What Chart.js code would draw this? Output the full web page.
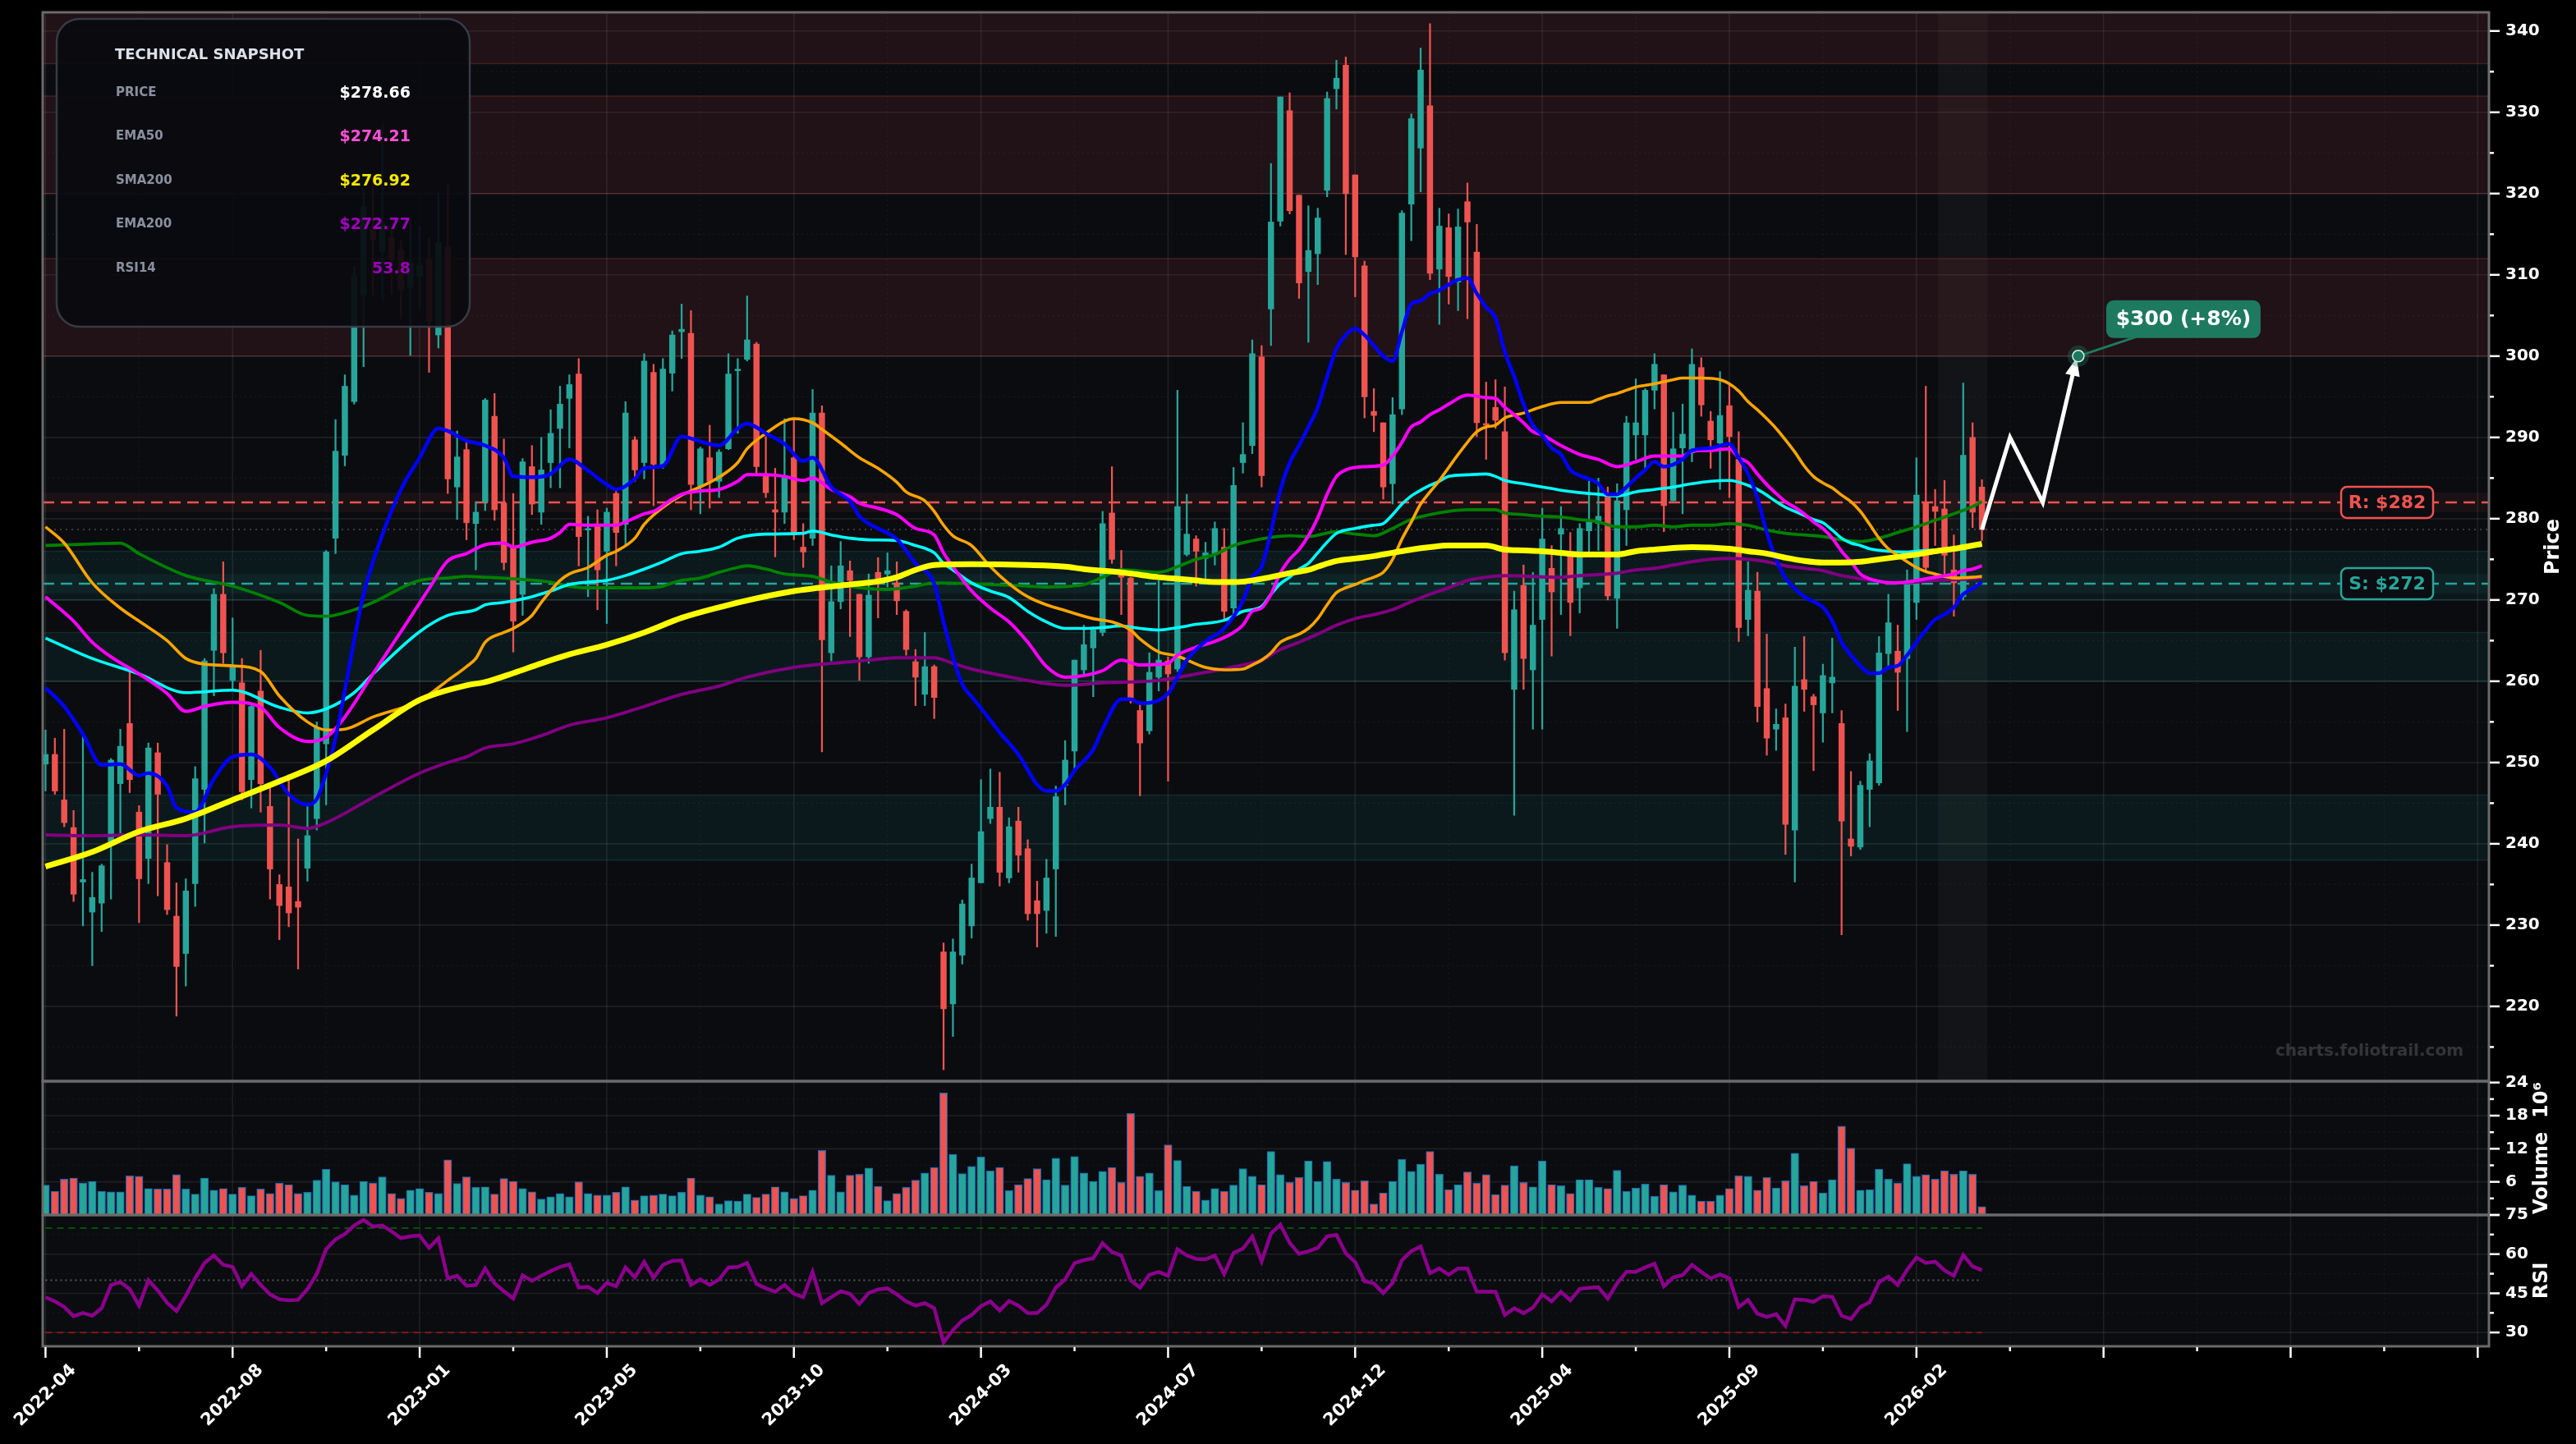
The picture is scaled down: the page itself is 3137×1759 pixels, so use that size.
<!DOCTYPE html>
<html>
<head>
<meta charset="utf-8">
<script src="https://cdn.jsdelivr.net/npm/chart.js@4.4.1/dist/chart.umd.min.js"></script>
<style>
  html, body { margin: 0; padding: 0; background: #000; }
  #wrap { width: 3137px; height: 1759px; }
</style>
</head>
<body>
<div id="wrap"><canvas id="techChart" width="3137" height="1759"></canvas></div>
<script>
// weekly candles, bar 0 = first week of 2022-04
const opens = [
  249.8,251.0,245.4,242.0,235.3,231.6,232.7,240.3,247.4,254.8,
  243.9,238.2,251.2,237.7,231.1,226.5,235.1,246.7,263.8,270.7,
  260.1,259.8,247.9,258.8,244.6,235.0,234.7,232.9,237.0,243.1,
  252.3,277.6,287.8,294.4,307.5,315.6,312.9,314.6,313.1,308.5,
  309.8,311.9,302.6,313.4,283.9,288.5,279.4,282.1,292.6,281.9,
  276.5,270.7,286.4,280.8,286.9,291.1,294.8,297.8,278.6,279.3,
  276.0,283.1,279.3,289.7,286.9,298.0,286.5,297.9,303.0,302.8,
  284.0,287.5,284.6,288.6,298.2,299.6,301.5,285.3,281.1,280.8,
  287.5,276.5,277.6,293.0,263.5,269.8,273.6,270.7,263.0,273.4,
  273.2,272.1,268.6,262.4,258.4,261.8,226.7,220.3,226.3,229.9,
  235.2,243.1,244.5,235.8,242.8,239.4,233.0,231.8,236.9,247.2,
  251.4,261.4,264.1,266.0,280.7,273.4,272.7,256.4,253.9,260.5,
  262.5,261.5,275.6,277.5,275.1,275.6,276.5,269.0,286.9,289.0,
  299.9,305.8,316.6,330.2,319.8,310.4,312.6,320.4,332.9,335.8,
  322.3,311.1,293.2,291.8,284.3,293.5,318.7,325.6,330.8,310.7,
  315.8,309.1,319.0,312.8,291.7,293.7,290.7,259.0,271.8,261.4,
  267.6,273.9,278.1,275.8,271.5,278.5,279.4,282.8,270.2,281.1,
  290.3,290.3,295.8,297.7,282.2,288.7,288.1,298.6,292.0,289.3,
  293.9,287.3,267.6,271.1,259.1,254.1,255.5,241.7,260.2,258.1,
  256.1,259.8,254.8,240.6,239.6,246.7,247.5,263.4,263.7,262.8,
  269.7,281.9,281.5,281.2,273.7,270.4,290.0,283.9
];
const highs = [
  254.0,253.0,254.1,244.1,253.6,236.5,237.5,250.5,254.1,261.5,
  244.7,252.4,252.4,239.9,235.2,235.7,249.5,262.8,271.4,274.7,
  267.8,262.8,257.0,263.8,247.0,236.2,248.5,240.6,244.8,255.0,
  276.1,292.2,297.7,311.0,320.6,321.0,328.4,316.0,314.2,316.4,
  316.0,314.5,320.1,321.0,290.8,289.5,282.1,294.8,295.4,289.8,
  283.1,287.4,289.0,290.0,293.4,296.3,297.7,299.7,280.3,281.1,
  281.3,283.6,294.4,290.1,300.3,299.0,299.7,303.1,306.4,305.6,
  288.8,291.5,288.5,300.3,299.7,307.4,301.7,290.1,286.2,292.3,
  292.3,279.4,295.9,293.9,274.2,277.2,274.8,270.7,273.2,275.2,
  275.8,274.7,268.8,263.9,266.0,262.0,227.8,228.3,233.1,237.5,
  247.9,249.2,248.8,243.2,244.5,240.5,235.4,238.1,247.1,252.7,
  262.6,266.9,266.7,280.9,286.4,276.1,272.8,257.5,263.5,272.4,
  263.0,295.8,283.0,277.9,277.1,279.6,278.8,286.3,291.8,302.0,
  301.3,323.7,331.9,332.4,319.8,318.5,318.2,332.5,336.4,336.8,
  322.3,311.7,296.0,291.8,294.9,317.9,329.8,337.9,340.9,318.2,
  317.5,318.1,321.3,316.2,296.8,297.1,296.2,271.1,274.3,273.4,
  281.3,276.7,281.5,278.3,279.4,284.6,285.0,283.9,284.3,292.6,
  297.2,296.0,300.3,297.7,293.1,294.1,300.9,299.8,293.2,298.1,
  296.6,290.7,274.7,273.4,265.8,256.6,257.2,264.2,265.5,258.4,
  262.1,265.3,256.4,248.9,247.7,251.1,265.5,270.7,266.9,273.7,
  287.5,296.3,283.6,284.7,278.0,296.7,291.8,284.8
];
const lows = [
  246.5,246.1,242.1,232.9,229.9,225.0,229.2,233.2,241.3,246.3,
  230.3,235.1,233.6,231.3,218.8,222.5,232.3,240.1,258.2,262.2,
  258.9,245.4,244.4,243.9,233.2,228.2,229.8,224.6,235.4,241.7,
  244.8,275.7,286.5,294.1,298.7,307.5,307.0,307.6,304.6,300.1,
  305.9,298.0,301.0,283.1,279.9,277.4,273.7,281.0,279.8,273.7,
  263.6,268.1,280.5,279.3,283.8,283.8,288.7,274.2,270.4,268.8,
  267.1,274.2,276.7,284.6,284.9,281.6,286.2,295.7,299.7,281.1,
  280.6,281.3,282.6,288.5,290.5,299.4,285.5,282.6,275.3,279.4,
  277.4,274.0,276.7,251.3,262.5,268.9,265.5,260.1,262.2,267.8,
  271.6,268.2,263.2,257.0,257.0,255.4,212.2,216.3,225.2,228.4,
  235.2,242.5,234.8,235.2,236.5,230.6,227.3,229.0,228.6,244.8,
  248.8,260.9,258.1,265.6,274.5,268.2,257.3,245.9,253.5,258.8,
  247.7,261.2,275.4,271.7,272.4,274.3,267.5,268.2,285.6,288.0,
  283.9,301.3,316.0,317.5,307.1,301.7,308.8,319.6,330.4,312.5,
  307.3,292.4,290.7,282.4,281.8,292.8,314.2,320.2,309.4,303.9,
  306.4,305.6,304.6,290.1,287.3,291.1,262.6,243.5,259.0,254.1,
  254.1,263.1,268.2,265.6,268.4,275.8,276.1,270.0,266.5,276.7,
  287.3,286.0,293.5,278.4,282.2,280.6,287.0,292.6,286.2,283.6,
  282.6,264.9,265.6,255.0,250.9,251.5,238.7,235.3,256.3,249.0,
  252.5,256.1,228.8,238.5,239.3,242.1,247.2,261.9,256.4,253.8,
  267.6,273.4,276.7,273.0,268.0,270.0,278.9,277.3
];
const closes = [
  251.0,246.5,242.6,233.8,235.6,233.4,237.3,250.3,252.0,247.9,
  235.7,251.8,246.1,231.9,224.9,234.2,248.0,262.5,270.7,263.5,
  261.9,246.4,256.9,247.4,236.9,232.4,231.5,232.2,241.0,254.3,
  275.9,288.3,296.3,309.8,318.4,314.3,316.4,311.9,308.2,311.5,
  311.2,304.3,314.0,284.9,287.6,279.5,280.8,294.6,281.1,274.6,
  267.4,287.0,281.8,286.0,290.5,294.1,296.5,277.8,278.8,273.7,
  280.8,278.3,293.0,286.0,299.4,286.7,298.4,302.6,303.3,284.2,
  288.6,284.6,288.2,297.8,298.4,302.0,286.4,283.2,280.8,285.1,
  278.3,275.9,293.0,265.1,269.8,274.2,272.4,263.0,270.6,272.6,
  273.6,269.9,263.9,260.5,261.8,258.0,219.7,226.7,232.6,235.8,
  241.5,244.5,236.5,242.1,238.6,231.4,231.4,235.8,245.8,250.3,
  262.6,264.5,266.3,279.4,275.0,272.8,258.0,252.4,261.1,262.6,
  260.9,281.5,278.1,276.0,275.8,278.8,268.6,284.1,287.9,300.3,
  285.3,316.5,331.9,317.9,309.0,313.0,317.0,331.7,334.2,320.0,
  312.2,295.0,292.7,283.9,292.8,317.6,329.2,335.2,310.2,316.0,
  309.8,315.9,316.5,291.8,291.5,292.1,263.5,268.8,262.8,266.9,
  277.5,271.0,278.8,269.7,278.8,279.6,280.3,270.5,282.2,291.8,
  291.8,295.8,299.0,281.6,288.6,290.4,299.0,294.0,289.7,292.7,
  290.1,266.6,271.2,256.9,253.0,254.7,242.4,259.4,259.0,257.1,
  260.7,260.5,242.8,239.7,247.2,250.2,263.5,267.2,261.1,272.2,
  282.9,274.0,280.9,275.5,272.1,287.8,280.8,278.66
];
// volume in millions
const volumes = [
  5.4,4.3,6.5,6.7,5.8,6.1,4.3,4.2,4.2,7.1, 7.0,4.8,4.7,4.7,7.3,4.7,3.8,6.7,4.5,4.8,
  3.8,5.0,3.5,4.7,3.9,5.8,5.5,3.9,4.1,6.3, 8.3,6.0,5.5,3.6,6.1,5.8,6.9,3.9,3.0,4.5,
  4.8,4.1,3.9,10.0,5.7,6.9,5.0,5.1,3.8,6.6, 6.1,4.8,4.2,2.9,3.3,3.9,3.3,6.0,3.9,3.6,
  3.6,4.1,5.1,2.7,3.5,3.6,3.8,3.5,4.1,6.7, 3.6,3.3,2.0,2.6,2.5,3.8,3.2,3.8,5.1,4.2,
  3.0,3.5,4.5,11.7,7.2,4.2,7.2,7.4,8.5,5.2, 2.6,3.9,5.0,6.3,7.6,8.6,22.1,11.0,7.5,8.8,
  10.5,8.0,8.6,4.4,5.5,6.6,8.4,6.4,10.3,5.4, 10.6,7.6,6.1,7.9,8.6,5.9,18.4,7.0,7.6,4.4,
  12.7,9.9,5.2,4.3,2.7,4.8,4.3,5.4,8.4,7.0, 5.5,11.5,7.3,5.9,6.8,9.8,6.1,9.7,6.5,5.9,
  4.5,6.2,2.0,4.0,6.1,10.1,7.9,9.2,11.5,7.4, 4.6,5.5,7.8,5.8,7.3,3.7,5.4,8.9,5.9,5.1,
  9.8,5.5,5.3,3.9,6.4,6.4,5.0,4.8,8.1,4.3, 4.9,5.6,3.4,5.5,4.2,5.4,3.6,2.5,2.5,3.6,
  4.8,7.1,7.0,4.5,6.8,4.9,6.2,11.2,5.3,6.1, 4.0,6.4,16.1,12.1,4.5,4.6,8.3,6.5,5.8,9.3,
  7.0,7.3,6.5,8.0,7.4,8.0,7.4,1.5
];
const rsi14 = [
  43.5,41.9,39.8,36.2,37.5,36.4,39.3,48.2,49.3,46.6, 40.3,50.0,46.1,41.4,38.2,44.0,50.8,56.6,59.5,55.9,
  55.1,47.7,52.4,48.2,44.6,42.7,42.3,42.5,46.6,52.4, 61.9,65.6,67.7,71.0,73.1,70.6,71.0,68.7,66.1,66.8,
  67.1,62.4,66.1,50.7,51.7,47.9,48.2,54.5,48.8,45.8, 43.0,51.9,49.8,51.7,53.5,55.1,56.1,47.2,47.5,45.1,
  49.0,47.7,54.9,51.1,57.0,50.9,55.9,57.4,57.6,48.2, 50.3,48.2,50.3,54.9,55.1,56.6,48.6,46.9,45.6,48.2,
  44.8,43.5,53.2,41.2,43.5,45.8,44.8,40.9,45.1,46.5, 46.9,44.6,41.9,40.3,41.2,39.3,26.2,30.9,34.6,36.7,
  40.1,41.9,38.4,42.1,40.3,37.4,37.4,40.6,47.2,50.3, 56.6,57.7,58.4,64.2,60.8,59.5,50.0,47.2,52.1,53.2,
  51.7,61.9,59.5,58.2,58.0,59.5,52.4,60.5,62.1,66.8, 57.2,67.9,71.3,64.3,60.1,61.1,62.4,66.8,67.4,60.3,
  57.0,49.6,48.8,45.1,49.0,57.7,61.1,62.9,52.7,54.5, 52.1,54.5,54.5,45.6,45.6,45.6,36.7,39.3,37.4,39.5,
  44.6,41.9,45.6,42.3,46.7,47.1,47.3,43.0,48.8,53.2, 53.2,54.9,56.3,47.7,51.1,52.0,55.9,53.2,50.7,52.2,
  50.7,39.8,42.5,37.2,36.0,37.0,32.5,42.7,42.5,41.7, 43.9,43.7,36.4,35.1,39.8,41.6,49.3,51.4,48.2,54.0,
  58.7,56.6,57.1,53.8,51.7,59.7,55.3,53.8
];

// moving averages as [bar, value]
const maBlue = [[0,259.2],[2,256.9],[4,253.5],[6,249.7],[8,249.8],[10,248.4],[11,248.7],[13,247.1],[14,244.4],[16,243.9],[18,248.0],[20,250.7],[22,251.0],[24,249.4],[26,246.1],[28,244.8],[29,245.5],[30,248.7],[31,253.0],[32,258.9],[34,270.7],[36,278.0],[38,283.6],[40,287.5],[42,291.1],[43,290.8],[45,289.6],[47,289.0],[49,287.5],[50,285.2],[52,285.1],[54,285.5],[56,287.3],[58,285.9],[60,284.2],[61,283.6],[63,284.9],[64,286.2],[66,286.5],[68,290.1],[70,289.5],[72,289.0],[74,291.1],[75,291.7],[77,290.5],[79,289.2],[81,287.1],[82,287.5],[84,283.9],[86,282.1],[87,280.3],[88,279.4],[89,278.8],[91,277.5],[93,274.5],[95,272.0],[96,267.3],[97,263.0],[98,259.6],[99,258.1],[100,256.7],[102,253.7],[104,251.0],[106,247.3],[107,246.5],[108,246.5],[109,247.3],[110,249.0],[112,251.6],[113,254.1],[115,257.8],[116,257.8],[117,257.3],[120,258.5],[121,260.5],[122,262.6],[124,264.9],[126,266.5],[128,269.9],[129,272.8],[130,274.1],[131,278.4],[132,283.5],[133,286.9],[134,289.0],[135,291.3],[136,293.7],[137,297.5],[138,300.9],[139,302.6],[140,303.4],[141,302.6],[142,301.3],[143,300.0],[144,299.4],[145,303.0],[146,306.4],[147,306.8],[148,307.7],[149,308.1],[150,308.8],[151,309.4],[152,309.6],[153,307.7],[154,306.0],[155,304.7],[156,300.5],[157,297.5],[158,294.1],[159,291.5],[160,290.3],[161,288.7],[162,287.9],[163,286.0],[164,285.3],[165,284.9],[166,284.3],[167,283.0],[168,283.0],[169,283.9],[170,285.0],[171,286.0],[172,287.0],[173,286.4],[175,287.3],[176,288.4],[178,288.7],[180,289.2],[181,287.5],[182,285.5],[183,282.6],[184,278.3],[185,275.0],[186,272.7],[187,271.4],[188,270.4],[189,269.8],[190,269.1],[191,267.4],[192,264.8],[193,263.2],[194,261.9],[195,261.0],[196,261.0],[197,261.7],[198,261.9],[199,263.2],[200,264.8],[201,266.3],[202,267.6],[203,268.2],[204,269.1],[205,270.7],[206,271.4],[207,272.2]];
const ema50 = [[0,270.4],[3,267.4],[5,264.8],[7,263.0],[10,260.9],[13,258.5],[15,256.3],[17,256.9],[20,257.4],[23,256.8],[25,254.3],[28,252.6],[30,253.1],[32,255.6],[35,260.9],[38,266.1],[41,271.4],[43,274.8],[45,275.7],[47,276.8],[49,277.0],[50,276.5],[52,277.1],[54,277.6],[55,278.3],[56,279.3],[58,279.2],[61,279.2],[62,279.6],[63,280.1],[64,280.6],[65,280.9],[67,282.4],[68,283.0],[70,283.4],[72,283.6],[74,284.6],[75,285.4],[77,285.4],[79,285.2],[81,284.7],[82,285.0],[84,283.6],[86,282.7],[87,281.9],[89,281.3],[91,280.5],[93,278.8],[95,278.0],[96,275.8],[97,274.1],[99,271.1],[101,269.0],[103,267.3],[105,264.8],[107,261.8],[109,260.5],[111,260.7],[113,261.3],[115,262.6],[117,262.0],[120,262.2],[121,263.2],[123,264.2],[125,264.9],[127,266.0],[128,266.9],[129,268.6],[130,269.0],[131,270.7],[132,273.3],[133,275.0],[134,276.2],[135,277.9],[136,280.1],[137,283.0],[138,285.2],[139,286.0],[141,286.4],[143,286.6],[144,287.7],[145,289.4],[146,291.3],[147,291.9],[148,292.8],[149,293.4],[150,294.1],[152,295.2],[154,294.9],[155,294.8],[156,293.7],[157,292.8],[158,291.8],[159,290.7],[160,290.3],[162,289.0],[164,287.9],[166,287.3],[168,286.4],[170,287.0],[172,287.7],[175,287.7],[176,288.3],[178,288.4],[180,288.6],[181,287.5],[182,286.9],[183,285.5],[184,284.2],[185,283.1],[186,282.1],[187,281.4],[188,280.6],[189,279.6],[190,278.8],[191,277.6],[192,276.0],[193,274.7],[194,273.2],[195,272.6],[196,272.3],[197,272.1],[199,272.2],[200,272.4],[202,272.8],[204,273.2],[205,273.6],[206,273.8],[207,274.21]];
const maOrange = [[0,279.0],[2,277.0],[5,272.1],[8,269.0],[10,267.4],[13,265.0],[15,262.8],[17,262.1],[20,261.9],[23,261.2],[25,258.2],[28,255.0],[30,254.0],[32,254.1],[35,255.6],[40,257.6],[43,260.1],[45,261.8],[46,262.8],[47,264.8],[49,266.0],[50,266.5],[52,268.1],[53,269.7],[55,272.4],[56,273.2],[58,274.0],[60,275.5],[61,276.0],[63,277.6],[64,279.3],[66,281.4],[68,282.9],[70,283.9],[72,285.1],[74,286.9],[75,288.6],[77,290.5],[79,292.0],[80,292.3],[82,291.8],[83,291.0],[85,289.3],[87,287.5],[89,286.2],[91,284.5],[92,283.3],[94,282.2],[95,280.9],[96,279.2],[97,277.9],[99,276.7],[101,274.1],[103,272.0],[105,270.4],[107,269.4],[109,268.7],[112,267.7],[114,267.3],[116,266.3],[117,265.2],[119,263.6],[121,263.1],[124,261.7],[126,261.4],[128,261.5],[129,262.0],[130,262.6],[131,263.5],[132,264.8],[134,265.8],[135,266.5],[136,267.7],[137,269.4],[138,270.9],[139,271.5],[140,271.9],[141,272.4],[142,272.8],[143,273.4],[144,275.0],[145,277.5],[146,279.6],[147,281.8],[148,283.3],[149,284.7],[150,286.3],[151,287.9],[152,289.4],[153,290.7],[154,291.3],[155,291.5],[156,292.4],[158,293.0],[160,293.8],[162,294.3],[165,294.3],[166,294.7],[167,295.1],[168,295.4],[169,295.8],[170,296.2],[172,296.6],[174,297.1],[175,297.3],[177,297.3],[179,297.1],[180,296.6],[181,295.7],[182,294.4],[183,293.4],[184,292.3],[185,291.1],[186,289.7],[187,288.2],[188,286.5],[189,285.2],[190,284.4],[191,283.8],[192,282.9],[193,282.1],[194,280.9],[195,279.3],[196,277.6],[197,276.3],[198,275.5],[199,274.7],[200,274.0],[201,273.5],[202,273.2],[203,272.9],[204,272.7],[206,272.8],[207,272.9]];
const maCyan = [[0,265.3],[5,262.8],[10,260.9],[15,258.6],[20,258.9],[25,256.8],[28,256.1],[30,256.6],[33,258.6],[35,260.9],[40,266.1],[43,268.1],[46,268.8],[47,269.4],[49,269.7],[52,270.4],[54,271.1],[56,271.9],[58,272.2],[60,272.4],[62,273.0],[64,273.8],[66,274.7],[68,275.7],[70,276.0],[72,276.5],[74,277.6],[77,278.1],[81,278.2],[82,278.5],[84,278.0],[86,277.6],[88,277.4],[91,277.3],[93,276.7],[95,275.8],[96,274.5],[97,273.7],[99,272.1],[101,271.1],[103,270.3],[105,268.6],[107,267.3],[109,266.5],[111,266.5],[113,266.6],[115,266.8],[117,266.5],[119,266.3],[121,266.6],[123,267.0],[126,267.5],[128,268.6],[130,269.2],[131,270.7],[132,272.0],[133,272.8],[134,273.8],[135,274.5],[136,275.8],[137,277.1],[138,278.2],[140,278.8],[142,279.2],[143,279.4],[144,280.5],[145,281.8],[146,282.8],[147,283.5],[148,284.1],[149,284.6],[150,285.2],[152,285.4],[154,285.5],[155,285.2],[156,284.7],[158,284.3],[160,283.9],[162,283.5],[164,283.2],[166,283.0],[168,282.8],[170,283.3],[172,283.6],[174,283.9],[176,284.3],[178,284.6],[180,284.7],[182,284.1],[183,283.6],[184,282.9],[185,282.1],[186,281.4],[187,280.9],[188,280.4],[189,279.9],[190,279.5],[191,278.6],[192,277.6],[193,277.0],[194,276.7],[195,276.3],[197,276.0],[199,275.9],[201,276.1],[203,276.2],[205,276.5],[207,276.7]];
const maGreen = [[0,276.7],[5,276.9],[8,277.0],[10,275.7],[15,273.0],[20,271.7],[25,269.7],[28,268.1],[30,268.0],[33,268.8],[35,269.7],[40,272.4],[43,272.7],[45,272.9],[47,272.8],[50,272.6],[54,272.2],[56,271.7],[58,271.5],[64,271.5],[66,271.7],[67,272.1],[68,272.4],[70,272.7],[72,273.4],[74,274.0],[75,274.2],[77,273.8],[79,273.2],[82,272.9],[84,272.2],[86,271.7],[88,271.4],[90,271.3],[93,271.7],[95,272.1],[99,272.0],[105,271.7],[107,271.6],[111,271.9],[113,272.8],[115,273.7],[119,273.4],[121,274.1],[123,275.0],[125,275.6],[127,276.7],[129,277.3],[131,277.7],[133,277.9],[135,277.8],[138,278.4],[140,278.1],[142,277.9],[144,278.8],[146,279.9],[148,280.5],[150,280.9],[152,281.1],[155,281.1],[156,280.7],[158,280.5],[160,280.3],[162,280.2],[164,279.9],[166,279.6],[168,279.0],[170,279.0],[172,279.2],[174,279.0],[176,279.2],[178,279.2],[180,279.4],[182,279.2],[184,278.6],[186,278.2],[188,278.0],[190,277.8],[192,277.4],[194,277.2],[196,277.6],[198,278.3],[200,279.0],[202,279.8],[204,280.6],[206,281.5],[207,282.1]];
const sma200 = [[0,237.2],[5,239.0],[10,241.5],[15,243.1],[20,245.4],[25,247.7],[30,250.2],[35,254.0],[40,257.7],[45,259.5],[47,259.9],[50,261.0],[53,262.2],[56,263.3],[60,264.5],[64,266.0],[68,267.8],[72,269.1],[76,270.2],[80,271.1],[82,271.4],[86,271.9],[89,272.3],[91,272.8],[93,273.7],[95,274.3],[99,274.4],[105,274.3],[109,274.1],[111,273.8],[115,273.4],[117,273.1],[119,272.8],[121,272.6],[123,272.4],[125,272.2],[127,272.2],[130,272.6],[133,273.3],[135,273.7],[136,274.1],[138,274.8],[140,275.1],[142,275.4],[144,275.8],[146,276.2],[148,276.5],[150,276.7],[154,276.7],[156,276.2],[158,276.1],[160,276.0],[162,275.8],[164,275.6],[168,275.6],[170,276.0],[172,276.2],[176,276.5],[180,276.3],[182,276.0],[184,275.7],[186,275.2],[188,274.8],[190,274.6],[192,274.6],[194,274.7],[196,275.0],[198,275.3],[200,275.6],[202,276.0],[204,276.3],[206,276.7],[207,276.92]];
const ema200 = [[0,241.1],[5,241.0],[10,241.1],[15,241.0],[20,242.1],[25,242.3],[28,241.9],[30,242.6],[35,245.7],[40,248.7],[43,250.0],[45,250.7],[47,251.8],[50,252.3],[53,253.3],[56,254.6],[60,255.5],[64,256.9],[68,258.4],[72,259.4],[75,260.5],[80,261.7],[84,262.2],[88,262.6],[91,262.9],[95,262.9],[97,262.2],[99,261.5],[101,261.0],[105,260.1],[107,259.7],[109,259.5],[113,259.8],[119,260.1],[123,260.9],[125,261.3],[128,262.0],[130,262.6],[132,263.9],[134,264.8],[136,265.8],[138,266.9],[140,267.7],[142,268.2],[144,268.8],[146,269.8],[148,270.7],[150,271.5],[152,272.4],[154,272.8],[156,273.0],[162,272.8],[164,273.0],[168,273.3],[170,273.7],[172,273.9],[174,274.3],[176,274.7],[178,275.0],[180,275.1],[182,275.0],[184,274.7],[186,274.2],[188,273.9],[190,273.6],[192,273.0],[194,272.6],[196,272.3],[198,272.1],[200,272.2],[202,272.4],[204,272.5],[206,272.6],[207,272.77]];

const dateLabels = ['2022-04','2022-08','2023-01','2023-05','2023-10','2024-03','2024-07','2024-12','2025-04','2025-09','2026-02'];
const resistanceZones = [[336, 348], [320, 332], [300, 312]];
const supportZones = [[270, 276], [260, 266], [238, 246]];
const resistanceLevel = 282;
const supportLevel = 272;
const rsiLevels = [70, 50, 30];
const projX = [207, 210, 213.5, 217];
const projY = [278.66, 290, 282, 299.2];
const target = { x: 217.3, y: 300, text: '$300 (+8%)' };
const snapshot = [
  ['PRICE', '$278.66', '#ffffff'],
  ['EMA50', '$274.21', '#ff4fd8'],
  ['SMA200', '$276.92', '#f5e800'],
  ['EMA200', '$272.77', '#a000c0'],
  ['RSI14', '53.8', '#9a00b8']
];

const UP = '#26a69a', DOWN = '#ef5350';
const N = closes.length;
const candleColors = closes.map((c, i) => (c >= opens[i] ? UP : DOWN));
const wickData = closes.map((c, i) => ({ x: i, y: [lows[i], highs[i]] }));
const bodyData = closes.map((c, i) => ({ x: i, y: [Math.min(opens[i], c), Math.max(opens[i], c)] }));
const volData = volumes.map((v, i) => ({ x: i, y: v }));
const rsiData = rsi14.map((v, i) => ({ x: i, y: v }));
const toPts = arr => arr.map(p => ({ x: p[0], y: p[1] }));

function maSet(pts, color, width, order) {
  return {
    type: 'line', data: toPts(pts), yAxisID: 'y', borderColor: color, borderWidth: width,
    pointRadius: 0, cubicInterpolationMode: 'monotone', borderJoinStyle: 'round', fill: false, order: order
  };
}

const datasets = [
  { type: 'bar', data: wickData, yAxisID: 'y', backgroundColor: candleColors, barThickness: 1.6, grouped: false, order: 20 },
  { type: 'bar', data: bodyData, yAxisID: 'y', backgroundColor: candleColors, barThickness: 6.8, minBarLength: 1.5, grouped: false, order: 19 },
  maSet(ema200, '#800080', 4, 9),
  maSet(maGreen, '#008000', 3.8, 8),
  maSet(maCyan, '#00ffff', 3.6, 7),
  maSet(maOrange, '#ffa500', 3.6, 6),
  maSet(ema50, '#ff00ff', 4, 5),
  maSet(maBlue, '#0000ff', 4.5, 4),
  maSet(sma200, '#ffff00', 7, 3),
  { type: 'bar', data: volData, yAxisID: 'yv', backgroundColor: candleColors, borderColor: 'rgba(31,110,190,0.95)', borderWidth: 1.2, barThickness: 9.5, grouped: false, order: 18 },
  { type: 'line', data: rsiData, yAxisID: 'yr', borderColor: '#8b008b', borderWidth: 4.5, pointRadius: 0, tension: 0, order: 1 },
  { type: 'line', data: projX.map((v, i) => ({ x: v, y: projY[i] })), yAxisID: 'y', borderColor: '#ffffff', borderWidth: 5, pointRadius: 0, tension: 0, borderJoinStyle: 'miter', order: 0 }
];
rsiLevels.forEach(level => {
  const style = level === 70 ? ['rgba(0,110,0,0.75)', [8, 6]] : level === 30 ? ['rgba(170,20,20,0.75)', [8, 6]] : ['rgba(150,150,150,0.55)', [2, 4]];
  datasets.push({ type: 'line', data: [{ x: 0, y: level }, { x: N - 1, y: level }], yAxisID: 'yr', borderColor: style[0], borderDash: style[1], borderWidth: 2, pointRadius: 0, order: 2 });
});

const FONT = 'DejaVu Sans';
function isMajor(id, v) {
  if (id === 'x') return Math.abs(v % 20) < 1e-6;
  if (id === 'y') return Math.abs(v % 10) < 1e-6;
  if (id === 'yv') return Math.abs(v % 6) < 1e-6;
  return Math.abs((v - 30) % 15) < 1e-6;
}
function tickText(id, v) {
  if (!isMajor(id, v)) return '';
  if (id === 'yv' && v <= 0) return '';
  return String(Math.round(v));
}

function hLine(ctx, x0, x1, py, color, width, dash) {
  ctx.save();
  ctx.strokeStyle = color; ctx.lineWidth = width; ctx.setLineDash(dash || []);
  ctx.beginPath(); ctx.moveTo(x0, py); ctx.lineTo(x1, py); ctx.stroke();
  ctx.restore();
}

function labelBox(ctx, cx, cy, w, h, text, color) {
  ctx.save();
  ctx.beginPath(); ctx.roundRect(cx - w / 2, cy - h / 2, w, h, 7);
  ctx.fillStyle = '#0b0d12'; ctx.fill();
  ctx.lineWidth = 2.5; ctx.strokeStyle = color; ctx.stroke();
  ctx.fillStyle = color; ctx.font = 'bold 22px ' + FONT;
  ctx.textAlign = 'center'; ctx.textBaseline = 'middle';
  ctx.fillText(text, cx, cy + 1);
  ctx.restore();
}

const panelPlugin = {
  id: 'panelPlugin',
  beforeDraw(chart) {
    const { ctx, chartArea: a } = chart;
    ctx.save();
    ctx.fillStyle = '#000000';
    ctx.fillRect(0, 0, chart.width, chart.height);
    ctx.fillStyle = '#0a0c10';
    ctx.fillRect(a.left, a.top, a.right - a.left, a.bottom - a.top);
    ctx.restore();
  },
  beforeDatasetsDraw(chart) {
    const { ctx, chartArea: a } = chart;
    const { x, y, yv, yr } = chart.scales;
    ctx.save();
    // latest bars highlight
    const h0 = x.getPixelForValue(202.3), h1 = x.getPixelForValue(207.6);
    ctx.fillStyle = 'rgba(255,255,255,0.035)';
    ctx.fillRect(h0, y.top, h1 - h0, y.bottom - y.top);
    // zones
    ctx.save();
    ctx.beginPath(); ctx.rect(a.left, y.top, a.right - a.left, y.bottom - y.top); ctx.clip();
    const zone = (lo, hi, fill, edge) => {
      const p0 = y.getPixelForValue(hi), p1 = y.getPixelForValue(lo);
      ctx.fillStyle = fill; ctx.fillRect(a.left, p0, a.right - a.left, p1 - p0);
      hLine(ctx, a.left, a.right, p0, edge, 1.5);
      hLine(ctx, a.left, a.right, p1, edge, 1.5);
    };
    resistanceZones.forEach(z => zone(z[0], z[1], 'rgba(239,83,80,0.10)', 'rgba(239,83,80,0.22)'));
    supportZones.forEach(z => zone(z[0], z[1], 'rgba(38,166,154,0.09)', 'rgba(38,166,154,0.18)'));
    zone(resistanceLevel - 1.2, resistanceLevel + 1.2, 'rgba(239,83,80,0.07)', 'rgba(239,83,80,0.0)');
    zone(supportLevel - 1.2, supportLevel + 1.2, 'rgba(38,166,154,0.07)', 'rgba(38,166,154,0.0)');
    ctx.restore();
    // grid lines
    x.ticks.forEach(t => {
      const px = x.getPixelForValue(t.value);
      const major = isMajor('x', t.value);
      ctx.save();
      ctx.strokeStyle = major ? 'rgba(255,255,255,0.08)' : 'rgba(255,255,255,0.05)';
      ctx.lineWidth = major ? 1.6 : 1.2;
      ctx.setLineDash(major ? [] : [2, 4]);
      ctx.beginPath(); ctx.moveTo(px, a.top); ctx.lineTo(px, a.bottom); ctx.stroke();
      ctx.restore();
    });
    [['y', y], ['yv', yv], ['yr', yr]].forEach(([id, s]) => {
      s.ticks.forEach(t => {
        const py = s.getPixelForValue(t.value);
        if (py <= s.top + 1 || py >= s.bottom - 1) return;
        const major = isMajor(id, t.value);
        hLine(ctx, a.left, a.right, py, major ? 'rgba(255,255,255,0.08)' : 'rgba(255,255,255,0.05)', major ? 1.6 : 1.2, major ? [] : [2, 4]);
      });
    });
    // levels
    hLine(ctx, a.left, a.right, y.getPixelForValue(closes[N - 1]), 'rgba(200,200,200,0.35)', 1.5, [2, 5]);
    hLine(ctx, a.left, a.right, y.getPixelForValue(resistanceLevel), DOWN, 2.5, [14, 8]);
    hLine(ctx, a.left, a.right, y.getPixelForValue(supportLevel), UP, 2.5, [14, 8]);
    ctx.restore();
  },
  afterDraw(chart) {
    const { ctx, chartArea: a } = chart;
    const { x, y, yv, yr } = chart.scales;
    ctx.save();
    // arrow head on projection
    const n = projX.length;
    const ex = x.getPixelForValue(projX[n - 1]), ey = y.getPixelForValue(projY[n - 1]);
    const sx = x.getPixelForValue(projX[n - 2]), sy = y.getPixelForValue(projY[n - 2]);
    const ang = Math.atan2(ey - sy, ex - sx);
    ctx.fillStyle = '#ffffff';
    ctx.beginPath();
    ctx.moveTo(ex + 6 * Math.cos(ang), ey + 6 * Math.sin(ang));
    ctx.lineTo(ex - 16 * Math.cos(ang) + 9 * Math.sin(ang), ey - 16 * Math.sin(ang) - 9 * Math.cos(ang));
    ctx.lineTo(ex - 16 * Math.cos(ang) - 9 * Math.sin(ang), ey - 16 * Math.sin(ang) + 9 * Math.cos(ang));
    ctx.closePath(); ctx.fill();
    // target marker and label
    const tx = x.getPixelForValue(target.x), ty = y.getPixelForValue(target.y);
    ctx.strokeStyle = '#1e7a5e'; ctx.lineWidth = 3;
    ctx.beginPath(); ctx.moveTo(tx, ty); ctx.lineTo(tx + 72, ty - 24); ctx.stroke();
    ctx.fillStyle = 'rgba(30,122,94,0.35)';
    ctx.beginPath(); ctx.arc(tx, ty, 13, 0, Math.PI * 2); ctx.fill();
    ctx.fillStyle = '#1e7a5e'; ctx.strokeStyle = '#d8f0e8'; ctx.lineWidth = 1.5;
    ctx.beginPath(); ctx.arc(tx, ty, 7, 0, Math.PI * 2); ctx.fill(); ctx.stroke();
    ctx.beginPath(); ctx.roundRect(tx + 34, ty - 68, 188, 46, 9);
    ctx.fillStyle = '#1e7a5e'; ctx.fill();
    ctx.fillStyle = '#ffffff'; ctx.font = 'bold 25px ' + FONT;
    ctx.textAlign = 'center'; ctx.textBaseline = 'middle';
    ctx.fillText(target.text, tx + 128, ty - 44);
    // level labels
    labelBox(ctx, 2907, y.getPixelForValue(resistanceLevel), 112, 38, 'R: $' + resistanceLevel, DOWN);
    labelBox(ctx, 2907, y.getPixelForValue(supportLevel), 112, 38, 'S: $' + supportLevel, UP);
    // watermark
    ctx.fillStyle = 'rgba(255,255,255,0.17)'; ctx.font = 'bold 20px ' + FONT;
    ctx.textAlign = 'right'; ctx.textBaseline = 'middle';
    ctx.fillText('charts.foliotrail.com', 3000, 1281);
    // panel borders
    ctx.strokeStyle = '#6a6a6a'; ctx.lineWidth = 3;
    [y, yv, yr].forEach(s => ctx.strokeRect(a.left, s.top, a.right - a.left, s.bottom - s.top));
    // tick marks and labels on the right
    ctx.strokeStyle = '#ffffff'; ctx.lineWidth = 2.5;
    ctx.fillStyle = '#ffffff'; ctx.font = 'bold 20px ' + FONT;
    ctx.textAlign = 'left'; ctx.textBaseline = 'middle';
    [['y', y], ['yv', yv], ['yr', yr]].forEach(([id, s]) => {
      s.ticks.forEach(t => {
        const py = s.getPixelForValue(t.value);
        const len = isMajor(id, t.value) ? 12 : 5;
        ctx.beginPath(); ctx.moveTo(a.right + 1, py); ctx.lineTo(a.right + 1 + len, py); ctx.stroke();
        const txt = tickText(id, t.value);
        if (txt) ctx.fillText(txt, a.right + 20, py);
      });
    });
    x.ticks.forEach(t => {
      const px = x.getPixelForValue(t.value);
      const len = isMajor('x', t.value) ? 13 : 5;
      ctx.beginPath(); ctx.moveTo(px, a.bottom + 1); ctx.lineTo(px, a.bottom + 1 + len); ctx.stroke();
    });
    // date labels
    ctx.fillStyle = '#ffffff'; ctx.font = 'bold 21px ' + FONT;
    ctx.textAlign = 'center'; ctx.textBaseline = 'middle';
    dateLabels.forEach((lab, i) => {
      const px = x.getPixelForValue(i * 20);
      ctx.save(); ctx.translate(px, 1700); ctx.rotate(-Math.PI / 4); ctx.fillText(lab, 0, 0); ctx.restore();
    });
    // axis titles
    const title = (txt, cx, cy) => {
      ctx.save(); ctx.translate(cx, cy); ctx.rotate(-Math.PI / 2);
      ctx.fillStyle = '#ffffff'; ctx.font = 'bold 24px ' + FONT;
      ctx.textAlign = 'center'; ctx.textBaseline = 'middle';
      ctx.fillText(txt, 0, 0); ctx.restore();
    };
    title('Price', 3110, (y.top + y.bottom) / 2);
    title('Volume  10⁶', 3096, (yv.top + yv.bottom) / 2);
    title('RSI', 3096, (yr.top + yr.bottom) / 2);
    // snapshot box
    ctx.beginPath(); ctx.roundRect(69, 23, 503, 375, 28);
    ctx.fillStyle = 'rgba(10,11,15,0.93)'; ctx.fill();
    ctx.strokeStyle = 'rgba(58,62,74,0.95)'; ctx.lineWidth = 2.5; ctx.stroke();
    ctx.textBaseline = 'middle'; ctx.textAlign = 'left';
    ctx.fillStyle = '#dde1ea'; ctx.font = 'bold 18px ' + FONT;
    ctx.fillText('TECHNICAL SNAPSHOT', 140, 67);
    snapshot.forEach((row, i) => {
      const ry = 113 + i * 53.5;
      ctx.textAlign = 'left'; ctx.fillStyle = '#8b90a0'; ctx.font = 'bold 15px ' + FONT;
      ctx.fillText(row[0], 141, ry);
      ctx.textAlign = 'right'; ctx.fillStyle = row[2]; ctx.font = 'bold 19px ' + FONT;
      ctx.fillText(row[1], 500, ry + 1);
    });
    ctx.restore();
  }
};

const hiddenTicks = (step) => ({ display: false, stepSize: step, includeBounds: false, autoSkip: false });
const ctx = document.getElementById('techChart').getContext('2d');
const techChart = new Chart(ctx, {
  type: 'bar',
  data: { datasets: datasets },
  options: {
    responsive: false,
    animation: false,
    events: [],
    layout: { padding: { left: 52, top: 15, right: 0, bottom: 0 } },
    plugins: { legend: { display: false }, tooltip: { enabled: false } },
    scales: {
      x: {
        type: 'linear', min: -0.3, max: 261.2, offset: false,
        grid: { display: false, drawTicks: false }, border: { display: false },
        ticks: hiddenTicks(10),
        afterFit: s => { s.height = 119; }
      },
      y: {
        type: 'linear', position: 'right', stack: 'panes', stackWeight: 1302, min: 210.8, max: 342.3,
        grid: { display: false, drawTicks: false }, border: { display: false },
        ticks: hiddenTicks(5),
        afterFit: s => { s.width = 106; }
      },
      yv: {
        type: 'linear', position: 'right', stack: 'panes', stackWeight: 163, min: 0, max: 24.25,
        grid: { display: false, drawTicks: false }, border: { display: false },
        ticks: hiddenTicks(3),
        afterFit: s => { s.width = 106; }
      },
      yr: {
        type: 'linear', position: 'right', stack: 'panes', stackWeight: 160, min: 24.7, max: 75,
        grid: { display: false, drawTicks: false }, border: { display: false },
        ticks: hiddenTicks(7.5),
        afterFit: s => { s.width = 106; }
      }
    }
  },
  plugins: [panelPlugin]
});
</script>
</body>
</html>
